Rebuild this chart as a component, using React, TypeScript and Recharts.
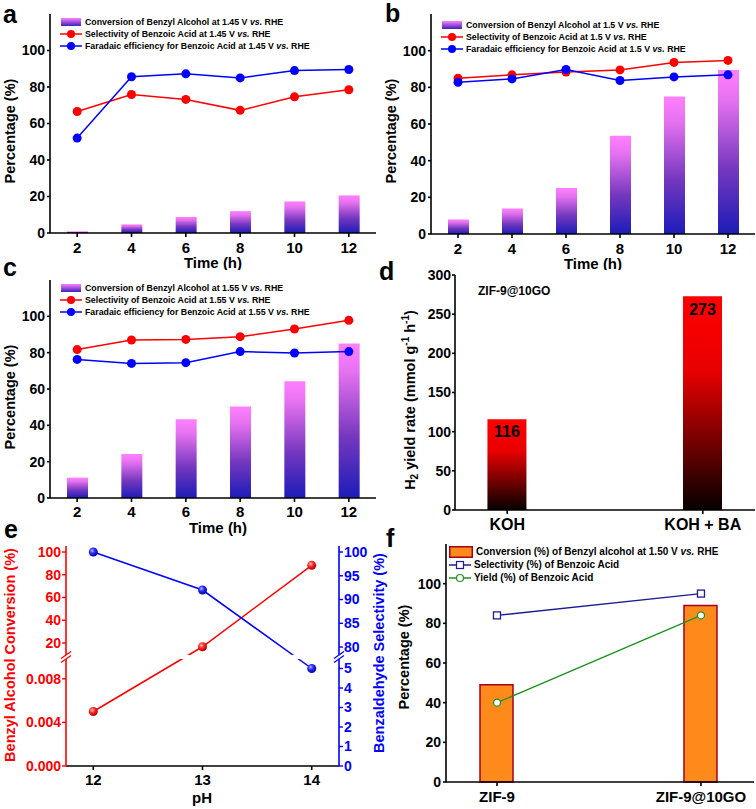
import React from 'react';
import { Bar, ComposedChart, LabelList, Legend, Line, ReferenceArea, ReferenceLine, XAxis, YAxis } from 'recharts';

const FONT = '"Liberation Sans", Arial, Helvetica, sans-serif';
const RED = '#ff0000';
const BLUE = '#0000ff';
const NAVY = '#1c1c94';
const GREEN = '#1f8f1f';

// panels a-c: time course
const hours = [2, 4, 6, 8, 10, 12];
const convA = [0.9, 4.7, 8.8, 12, 17.3, 20.6];
const selA = [66.6, 75.9, 73.2, 67.2, 74.6, 78.5];
const feA = [52, 85.6, 87.2, 85, 89, 89.6];
const convB = [7.9, 13.9, 25.1, 53.6, 75, 89.4];
const selB = [85, 86.8, 88.3, 89.5, 93.6, 94.7];
const feB = [82.8, 84.6, 89.7, 83.7, 85.7, 86.8];
const convC = [11.2, 24.2, 43.3, 50.3, 64.2, 85.1];
const selC = [81.7, 87, 87.3, 88.8, 93, 97.8];
const feC = [76.3, 74.1, 74.5, 80.6, 79.8, 80.6];
const pctTicks = [0, 20, 40, 60, 80, 100];

// panel d
const electrolytes = ['KOH', 'KOH + BA'];
const h2Rate = [116, 273];
const h2Ticks = [0, 50, 100, 150, 200, 250, 300];

// panel e (broken axes)
const phValues = [12, 13, 14];
const phConversion = [0.005, 16.7, 88.3];
const phSelectivity = [100, 92, 5];
const convTicksLow = [0, 0.004, 0.008];
const convTicksHigh = [20, 40, 60, 80, 100];
const selTicksLow = [0, 1, 2, 3, 4, 5];
const selTicksHigh = [80, 85, 90, 95, 100];

// panel f
const catalysts = ['ZIF-9', 'ZIF-9@10GO'];
const catConversion = [49, 89];
const catSelectivity = [84, 95];
const catYield = [40, 84];

const axisLine = { stroke: '#000', strokeWidth: 1.6 };
const yTick = { fill: '#000', fontSize: 14, fontWeight: 'bold', fontFamily: FONT };
const xTick = { fill: '#000', fontSize: 15, fontWeight: 'bold', fontFamily: FONT };

// recharts overwrites x/y on cloned labels, so positions come in as px/py
function AxisTitle({ px, py, text, vertical, color = '#000', size = 14.5 }: any) {
  return (
    <text
      x={px}
      y={py}
      transform={vertical ? `rotate(-90 ${px} ${py})` : undefined}
      textAnchor="middle"
      dominantBaseline="central"
      fill={color}
      fontSize={size}
      fontWeight="bold"
      fontFamily={FONT}
    >
      {text}
    </text>
  );
}

function LineIcon({ color, marker }: { color: string; marker: 'dot' | 'square' | 'ring' }) {
  return (
    <svg width={22} height={10} style={{ marginRight: 3, flex: 'none' }}>
      <line x1={0} y1={5} x2={22} y2={5} stroke={color} strokeWidth={1.5} />
      {marker === 'dot' && <circle cx={11} cy={5} r={4} fill={color} />}
      {marker === 'square' && <rect x={7.5} y={1.5} width={7} height={7} fill="#fff" stroke={color} strokeWidth={1.2} />}
      {marker === 'ring' && <circle cx={11} cy={5} r={3.5} fill="#fff" stroke={color} strokeWidth={1.2} />}
    </svg>
  );
}

function TimeLegend({ gid, volt }: { gid: string; volt: string }) {
  const row = { display: 'flex', alignItems: 'center', height: 12 } as const;
  return (
    <div style={{ fontFamily: FONT, fontSize: 8.8, fontWeight: 'bold', color: '#000', whiteSpace: 'nowrap' }}>
      <div style={row}>
        <svg width={22} height={8} style={{ marginRight: 3, flex: 'none' }}>
          <defs>
            <linearGradient id={gid + 'L'} x1="0" y1="0" x2="0" y2="1">
              <stop offset="0%" stopColor="#ff80ff" />
              <stop offset="100%" stopColor="#3a22b8" />
            </linearGradient>
          </defs>
          <rect x={1} width={20} height={8} fill={`url(#${gid}L)`} />
        </svg>
        <span>Conversion of Benzyl Alcohol at {volt} V <i>vs.</i> RHE</span>
      </div>
      <div style={row}>
        <LineIcon color={RED} marker="dot" />
        <span>Selectivity of Benzoic Acid at {volt} V <i>vs.</i> RHE</span>
      </div>
      <div style={row}>
        <LineIcon color={BLUE} marker="dot" />
        <span>Faradaic efficiency for Benzoic Acid at {volt} V <i>vs.</i> RHE</span>
      </div>
    </div>
  );
}

function TimePanel({ gid, conv, sel, fe, volt, box, plot, legendAt, yTitleAt, xTitleAt, tickGap }: any) {
  const rows = hours.map((t, i) => ({ t, conv: conv[i], sel: sel[i], fe: fe[i] }));
  const yW = plot.left - box.left;
  const xH = box.top + box.height - plot.bottom;
  return (
    <div style={{ position: 'absolute', left: box.left, top: box.top }}>
      <ComposedChart
        width={box.width}
        height={box.height}
        data={rows}
        margin={{ top: plot.top - box.top, right: box.left + box.width - plot.right, bottom: 0, left: 0 }}
      >
        <defs>
          <linearGradient id={gid} x1="0" y1="0" x2="0" y2="1">
            <stop offset="0%" stopColor="#ff80ff" />
            <stop offset="18%" stopColor="#e672f0" />
            <stop offset="60%" stopColor="#7638bf" />
            <stop offset="100%" stopColor="#1c1cb8" />
          </linearGradient>
        </defs>
        <XAxis
          dataKey="t"
          height={xH}
          interval={0}
          tickSize={4}
          tickMargin={tickGap}
          axisLine={axisLine}
          tickLine={axisLine}
          tick={xTick}
          label={<AxisTitle px={xTitleAt[0]} py={xTitleAt[1]} text="Time (h)" size={15} />}
        />
        <YAxis
          domain={[0, 120]}
          ticks={pctTicks}
          interval={0}
          width={yW}
          tickSize={3}
          tickMargin={2}
          axisLine={axisLine}
          tickLine={axisLine}
          tick={yTick}
          label={<AxisTitle px={yTitleAt[0]} py={yTitleAt[1]} text="Percentage (%)" vertical />}
        />
        <XAxis xAxisId="top" orientation="top" dataKey="t" height={0} tick={false} tickLine={false} axisLine={axisLine} />
        <YAxis yAxisId="right" orientation="right" width={0} domain={[0, 1]} tick={false} tickLine={false} axisLine={axisLine} />
        <Bar dataKey="conv" barSize={21} fill={`url(#${gid})`} isAnimationActive={false} />
        <Line
          dataKey="sel"
          stroke={RED}
          strokeWidth={1.5}
          dot={{ r: 4.5, fill: RED, stroke: RED, strokeWidth: 0 }}
          isAnimationActive={false}
        />
        <Line
          dataKey="fe"
          stroke={BLUE}
          strokeWidth={1.5}
          dot={{ r: 4.5, fill: BLUE, stroke: BLUE, strokeWidth: 0 }}
          isAnimationActive={false}
        />
        <Legend
          layout="horizontal"
          verticalAlign="middle"
          align="center"
          wrapperStyle={{ position: 'absolute', left: legendAt[0] - box.left, top: legendAt[1] - box.top, width: 'auto', height: 'auto' }}
          content={() => <TimeLegend gid={gid} volt={volt} />}
        />
      </ComposedChart>
    </div>
  );
}

// y title of panel d, plus the catalyst note in the plot corner
function H2Title({ px, py, nx, ny, note }: any) {
  return (
    <g>
      <text
        x={px}
        y={py}
        transform={`rotate(-90 ${px} ${py})`}
        textAnchor="middle"
        dominantBaseline="central"
        fontSize={14.5}
        fontWeight="bold"
        fontFamily={FONT}
        fill="#000"
      >
        <tspan>H</tspan>
        <tspan dy={4} fontSize={10}>2</tspan>
        <tspan dy={-4}> yield rate (mmol g</tspan>
        <tspan dy={-5} fontSize={10}>-1</tspan>
        <tspan dy={5}> h</tspan>
        <tspan dy={-5} fontSize={10}>-1</tspan>
        <tspan dy={5}>)</tspan>
      </text>
      <text x={nx} y={ny} textAnchor="start" dominantBaseline="central" fontSize={12} fontWeight="bold" fontFamily={FONT} fill="#000">
        {note}
      </text>
    </g>
  );
}

function PanelD() {
  const rows = electrolytes.map((name, i) => ({ x: i + 1, name, rate: h2Rate[i] }));
  const xd: [number, number] = [0.733, 2.267];
  return (
    <div style={{ position: 'absolute', left: 378, top: 262 }}>
      <ComposedChart width={378} height={278} data={rows} margin={{ top: 13, right: 1, bottom: 0, left: 0 }}>
        <defs>
          <linearGradient id="gradRed" x1="0" y1="0" x2="0" y2="1">
            <stop offset="0%" stopColor="#ff0000" />
            <stop offset="35%" stopColor="#e80000" />
            <stop offset="100%" stopColor="#050000" />
          </linearGradient>
        </defs>
        <XAxis
          dataKey="x"
          type="number"
          domain={xd}
          ticks={[1, 2]}
          interval={0}
          tickFormatter={(v) => electrolytes[v - 1]}
          height={30}
          tickSize={4}
          tickMargin={5}
          axisLine={axisLine}
          tickLine={axisLine}
          tick={{ ...xTick, fontSize: 16 }}
        />
        <YAxis
          domain={[0, 300]}
          ticks={h2Ticks}
          interval={0}
          width={77}
          tickSize={3}
          tickMargin={1}
          axisLine={axisLine}
          tickLine={axisLine}
          tick={yTick}
          label={<H2Title px={32} py={138} nx={100} ny={29} note="ZIF-9@10GO" />}
        />
        <XAxis xAxisId="top" orientation="top" dataKey="x" type="number" domain={xd} height={0} tick={false} tickLine={false} axisLine={axisLine} />
        <YAxis yAxisId="right" orientation="right" width={0} domain={[0, 1]} tick={false} tickLine={false} axisLine={axisLine} />
        <Bar dataKey="rate" barSize={39} fill="url(#gradRed)" isAnimationActive={false}>
          <LabelList dataKey="rate" position="insideTop" offset={7} fill="#000" fontSize={16} fontWeight="bold" fontFamily={FONT} />
        </Bar>
      </ComposedChart>
    </div>
  );
}

// piecewise mapping of the broken axes in panel e onto a linear 0-220 track
const BREAK = 109;
const toLeft = (v: number) => (v <= 0.01 ? (v / 0.01) * BREAK : BREAK + (v - 7.7) * 1.1375);
const toRight = (v: number) => (v <= 6 ? v * 19.5 : BREAK + (v - 77.9) * 4.75);

const leftTickItems = [
  ...convTicksLow.map((v) => ({ pos: toLeft(v), label: v.toFixed(3) })),
  ...convTicksHigh.map((v) => ({ pos: toLeft(v), label: String(v) })),
];
const rightTickItems = [
  ...selTicksLow.map((v) => ({ pos: toRight(v), label: String(v) })),
  ...selTicksHigh.map((v) => ({ pos: toRight(v), label: String(v) })),
];

function sphere(gid: string) {
  return (props: any) => {
    const { cx, cy, index } = props;
    if (cx == null || cy == null) return <g key={index} />;
    return <circle key={index} cx={cx} cy={cy} r={4.5} fill={`url(#${gid})`} />;
  };
}

function PanelE() {
  const rows = phValues.map((ph, i) => ({ ph, conv: toLeft(phConversion[i]), sel: toRight(phSelectivity[i]) }));
  const xd: [number, number] = [11.75, 14.25];
  const sx = 0.046;
  return (
    <div style={{ position: 'absolute', left: 0, top: 540 }}>
      <ComposedChart width={400} height={269} data={rows} margin={{ top: 6, right: 0, bottom: 0, left: 0 }}>
        <defs>
          <radialGradient id="sphRed" cx="38%" cy="35%" r="65%">
            <stop offset="0%" stopColor="#ffc0c0" />
            <stop offset="45%" stopColor="#ff2a2a" />
            <stop offset="100%" stopColor="#b00000" />
          </radialGradient>
          <radialGradient id="sphBlue" cx="38%" cy="35%" r="65%">
            <stop offset="0%" stopColor="#b8b8ff" />
            <stop offset="45%" stopColor="#2a2aff" />
            <stop offset="100%" stopColor="#0000a8" />
          </radialGradient>
        </defs>
        <XAxis
          dataKey="ph"
          type="number"
          domain={xd}
          ticks={phValues}
          interval={0}
          height={43}
          tickSize={4}
          tickMargin={4}
          axisLine={axisLine}
          tickLine={axisLine}
          tick={xTick}
          label={<AxisTitle px={202} py={257} text="pH" size={15} />}
        />
        <XAxis xAxisId="top" orientation="top" dataKey="ph" type="number" domain={xd} height={0} tick={false} tickLine={false} axisLine={axisLine} />
        <YAxis
          yAxisId="L"
          domain={[0, 220]}
          ticks={leftTickItems.map((t) => t.pos)}
          tickFormatter={(v) => leftTickItems.find((t) => Math.abs(t.pos - v) < 1e-6)?.label ?? ''}
          interval={0}
          width={66}
          tickSize={4}
          tickMargin={1}
          axisLine={{ stroke: RED, strokeWidth: 1.6 }}
          tickLine={{ stroke: RED, strokeWidth: 1.4 }}
          tick={{ ...yTick, fill: RED }}
          label={<AxisTitle px={9.5} py={115} text="Benzyl Alcohol Conversion (%)" vertical color={RED} />}
        />
        <YAxis
          yAxisId="R"
          orientation="right"
          domain={[0, 220]}
          ticks={rightTickItems.map((t) => t.pos)}
          tickFormatter={(v) => rightTickItems.find((t) => Math.abs(t.pos - v) < 1e-6)?.label ?? ''}
          interval={0}
          width={61}
          tickSize={4}
          tickMargin={1}
          axisLine={{ stroke: BLUE, strokeWidth: 1.6 }}
          tickLine={{ stroke: BLUE, strokeWidth: 1.4 }}
          tick={{ ...yTick, fill: BLUE }}
          label={<AxisTitle px={379} py={113} text="Benzaldehyde Selectivity (%)" vertical color={BLUE} />}
        />
        <Line yAxisId="L" dataKey="conv" stroke={RED} strokeWidth={1.5} dot={sphere('sphRed')} isAnimationActive={false} />
        <Line yAxisId="R" dataKey="sel" stroke={BLUE} strokeWidth={1.5} dot={sphere('sphBlue')} isAnimationActive={false} />
        <ReferenceArea
          yAxisId="L"
          x1={xd[0] - 0.03}
          x2={xd[1] + 0.03}
          y1={BREAK - 2}
          y2={BREAK + 2}
          fill="#fff"
          fillOpacity={1}
          stroke="none"
          ifOverflow="visible"
          zIndex={1500}
        />
        <ReferenceLine yAxisId="L" segment={[{ x: xd[0] - sx, y: BREAK - 5.5 }, { x: xd[0] + sx, y: BREAK + 1.5 }]} stroke={RED} strokeWidth={1.3} ifOverflow="visible" zIndex={1600} />
        <ReferenceLine yAxisId="L" segment={[{ x: xd[0] - sx, y: BREAK - 1.5 }, { x: xd[0] + sx, y: BREAK + 5.5 }]} stroke={RED} strokeWidth={1.3} ifOverflow="visible" zIndex={1600} />
        <ReferenceLine yAxisId="R" segment={[{ x: xd[1] - sx, y: BREAK - 5.5 }, { x: xd[1] + sx, y: BREAK + 1.5 }]} stroke={BLUE} strokeWidth={1.3} ifOverflow="visible" zIndex={1600} />
        <ReferenceLine yAxisId="R" segment={[{ x: xd[1] - sx, y: BREAK - 1.5 }, { x: xd[1] + sx, y: BREAK + 5.5 }]} stroke={BLUE} strokeWidth={1.3} ifOverflow="visible" zIndex={1600} />
      </ComposedChart>
    </div>
  );
}

function FLegend() {
  const row = { display: 'flex', alignItems: 'center', height: 13 } as const;
  return (
    <div style={{ fontFamily: FONT, fontSize: 10, fontWeight: 'bold', color: '#000', whiteSpace: 'nowrap' }}>
      <div style={row}>
        <svg width={24} height={12} style={{ marginRight: 3, flex: 'none' }}>
          <rect x={0.75} y={0.75} width={22.5} height={10.5} fill="#ff8a1c" stroke="#a8001c" strokeWidth={1.5} />
        </svg>
        <span>Conversion (%) of Benzyl alcohol at 1.50 V <i>vs.</i> RHE</span>
      </div>
      <div style={row}>
        <LineIcon color={NAVY} marker="square" />
        <span>Selectivity (%) of Benzoic Acid</span>
      </div>
      <div style={row}>
        <LineIcon color={GREEN} marker="ring" />
        <span>Yield (%) of Benzoic Acid</span>
      </div>
    </div>
  );
}

function squareDot(props: any) {
  const { cx, cy, index } = props;
  if (cx == null || cy == null) return <g key={index} />;
  return <rect key={index} x={cx - 3.5} y={cy - 3.5} width={7} height={7} fill="#fff" stroke={NAVY} strokeWidth={1.3} />;
}

function PanelF() {
  const rows = catalysts.map((name, i) => ({ x: i + 1, name, conv: catConversion[i], sel: catSelectivity[i], yld: catYield[i] }));
  const xd: [number, number] = [0.75, 2.26];
  return (
    <div style={{ position: 'absolute', left: 378, top: 540 }}>
      <ComposedChart width={378} height={269} data={rows} margin={{ top: 4, right: 2, bottom: 0, left: 0 }}>
        <XAxis
          dataKey="x"
          type="number"
          domain={xd}
          ticks={[1, 2]}
          interval={0}
          tickFormatter={(v) => catalysts[v - 1]}
          height={27}
          tickSize={4}
          tickMargin={5}
          axisLine={axisLine}
          tickLine={axisLine}
          tick={xTick}
        />
        <YAxis
          domain={[0, 120]}
          ticks={pctTicks}
          interval={0}
          width={68}
          tickSize={3}
          tickMargin={2}
          axisLine={axisLine}
          tickLine={axisLine}
          tick={yTick}
          label={<AxisTitle px={26} py={117} text="Percentage (%)" vertical />}
        />
        <XAxis xAxisId="top" orientation="top" dataKey="x" type="number" domain={xd} height={0} tick={false} tickLine={false} axisLine={axisLine} />
        <YAxis yAxisId="right" orientation="right" width={0} domain={[0, 1]} tick={false} tickLine={false} axisLine={axisLine} />
        <Bar dataKey="conv" barSize={33} fill="#ff8a1c" stroke="#a8001c" strokeWidth={1.5} isAnimationActive={false} />
        <Line dataKey="sel" stroke={NAVY} strokeWidth={1.3} dot={squareDot} isAnimationActive={false} />
        <Line
          dataKey="yld"
          stroke={GREEN}
          strokeWidth={1.3}
          dot={{ r: 3.5, fill: '#fff', stroke: GREEN, strokeWidth: 1.3 }}
          isAnimationActive={false}
        />
        <Legend
          layout="horizontal"
          verticalAlign="middle"
          align="center"
          wrapperStyle={{ position: 'absolute', left: 71, top: 5, width: 'auto', height: 'auto' }}
          content={() => <FLegend />}
        />
      </ComposedChart>
    </div>
  );
}

function PanelLetter({ ch, left, top }: { ch: string; left: number; top: number }) {
  return (
    <div style={{ position: 'absolute', left, top, fontFamily: FONT, fontWeight: 'bold', fontSize: 25, lineHeight: '25px', color: '#000' }}>
      {ch}
    </div>
  );
}

export default function App() {
  return (
    <div style={{ position: 'absolute', left: 0, top: 0, width: 756, height: 809, background: '#fff', overflow: 'hidden' }}>
      <TimePanel
        gid="gradA"
        conv={convA}
        sel={selA}
        fe={feA}
        volt="1.45"
        box={{ left: 0, top: 0, width: 378, height: 270 }}
        plot={{ left: 50, right: 376, top: 14, bottom: 233 }}
        legendAt={[60, 16]}
        yTitleAt={[10, 131]}
        xTitleAt={[213, 262]}
        tickGap={5}
      />
      <TimePanel
        gid="gradB"
        conv={convB}
        sel={selB}
        fe={feB}
        volt="1.5"
        box={{ left: 378, top: 0, width: 378, height: 270 }}
        plot={{ left: 431, right: 755, top: 14, bottom: 234 }}
        legendAt={[441, 19]}
        yTitleAt={[12.5, 131]}
        xTitleAt={[215, 263]}
        tickGap={5}
      />
      <TimePanel
        gid="gradC"
        conv={convC}
        sel={selC}
        fe={feC}
        volt="1.55"
        box={{ left: 0, top: 270, width: 378, height: 270 }}
        plot={{ left: 50, right: 376, top: 280, bottom: 498 }}
        legendAt={[60, 282]}
        yTitleAt={[10, 127]}
        xTitleAt={[218, 257]}
        tickGap={4}
      />
      <PanelD />
      <PanelE />
      <PanelF />
      <PanelLetter ch="a" left={3} top={2} />
      <PanelLetter ch="b" left={385} top={1} />
      <PanelLetter ch="c" left={3} top={255} />
      <PanelLetter ch="d" left={379} top={259} />
      <PanelLetter ch="e" left={4} top={517} />
      <PanelLetter ch="f" left={386} top={526} />
    </div>
  );
}
